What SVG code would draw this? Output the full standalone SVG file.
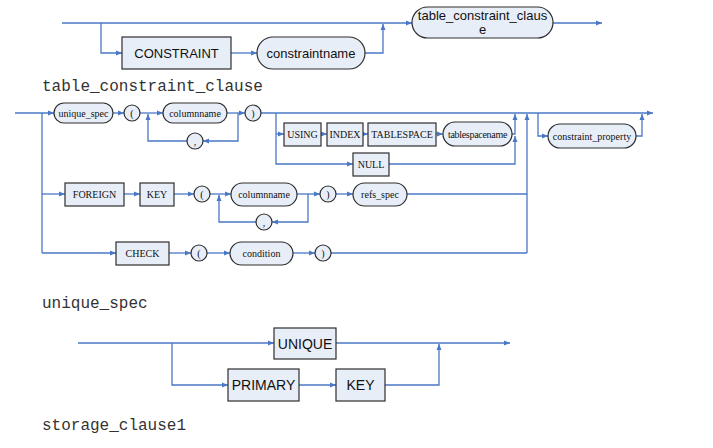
<svg xmlns="http://www.w3.org/2000/svg" width="713" height="448" viewBox="0 0 713 448">
<defs>
<marker id="ah" viewBox="0 0 6 6" refX="6" refY="3" markerWidth="6" markerHeight="6" markerUnits="userSpaceOnUse" orient="auto">
<path d="M0,0.5 L6,3 L0,5.5 z" fill="#4A78C6"/>
</marker>
<style>
.c{fill:none;stroke:#4A78C6;stroke-width:1.3}
.a{marker-end:url(#ah)}
.n{fill:#E8EEF8;stroke:#2E2E2E;stroke-width:1.2}
.ts{font-family:"Liberation Sans",Arial,sans-serif;fill:#111;text-anchor:middle}
.tt{font-family:"Liberation Serif","Times New Roman",serif;font-size:10px;fill:#111;text-anchor:middle}
.title{font-family:"Liberation Mono","Courier New",monospace;font-size:16px;fill:#333}
</style>
</defs>
<rect width="713" height="448" fill="#fff"/>

<g id="connectors">
<!-- top -->
<path class="c a" d="M62,23 H412"/>
<path class="c a" d="M101,23 V53 H122"/>
<path class="c a" d="M231,53 H257"/>
<path class="c a" d="M365,53 H383 V24"/>
<path class="c a" d="M553,23 H602"/>
<!-- middle main -->
<path class="c a" d="M15,113 H54"/>
<path class="c a" d="M113,113 H124"/>
<path class="c a" d="M140,113 H163"/>
<path class="c a" d="M227,113 H245"/>
<path class="c a" d="M238,113 V141 H203"/>
<path class="c a" d="M187,141 H148 V114"/>
<path class="c a" d="M261,113 H653"/>
<path class="c a" d="M276,113 V164 H353"/>
<path class="c a" d="M276,134 H284"/>
<path class="c a" d="M321,134 H327"/>
<path class="c a" d="M363,134 H368"/>
<path class="c a" d="M436,134 H443"/>
<path class="c a" d="M512,134 H515 V114"/>
<path class="c a" d="M389,164 H515 V136"/>
<path class="c a" d="M527,253 V114"/>
<path class="c a" d="M538,113 V136 H548"/>
<path class="c a" d="M636,136 H642 V114"/>
<!-- foreign row -->
<path class="c" d="M42,113 V253"/>
<path class="c a" d="M42,194 H65"/>
<path class="c a" d="M124,194 H140"/>
<path class="c a" d="M174,194 H194"/>
<path class="c a" d="M210,194 H231"/>
<path class="c a" d="M297,194 H320"/>
<path class="c a" d="M308,194 V222 H272"/>
<path class="c a" d="M256,222 H219 V195"/>
<path class="c a" d="M336,194 H353"/>
<path class="c" d="M407,194 H527"/>
<!-- check row -->
<path class="c a" d="M42,253 H116"/>
<path class="c a" d="M169,253 H191"/>
<path class="c a" d="M207,253 H230"/>
<path class="c a" d="M293,253 H315"/>
<path class="c" d="M331,253 H527"/>
<!-- bottom -->
<path class="c a" d="M78,343 H274"/>
<path class="c a" d="M336,343 H510"/>
<path class="c a" d="M172,343 V385 H228"/>
<path class="c a" d="M299,385 H336"/>
<path class="c a" d="M385,385 H439 V344"/>
</g>

<!-- top section -->
<g id="n_constraint"><rect class="n" x="122" y="37" width="109" height="32"/><text class="ts" x="176.5" y="58" font-size="13">CONSTRAINT</text></g>
<g id="n_constraintname"><rect class="n" x="257" y="37" width="108" height="32" rx="16"/><text class="ts" x="311" y="58" font-size="13">constraintname</text></g>
<g id="n_tcc"><rect class="n" x="412" y="7" width="141" height="31" rx="15.5"/><text class="ts" x="482.5" y="20" font-size="13">table_constraint_claus</text><text class="ts" x="482.5" y="34" font-size="13">e</text></g>

<text class="title" x="42" y="91">table_constraint_clause</text>

<!-- middle section -->
<g id="n_unique_spec"><rect class="n" x="54" y="103" width="59" height="20" rx="10"/><text class="tt" x="83.5" y="116.5" font-size="10.5">unique_spec</text></g>
<g id="n_lp1"><circle class="n" cx="132" cy="113" r="8"/><text class="tt" x="132" y="116.5">(</text></g>
<g id="n_col1"><rect class="n" x="163" y="103" width="64" height="20" rx="10"/><text class="tt" x="195" y="116.5">columnname</text></g>
<g id="n_comma1"><circle class="n" cx="195" cy="141" r="8"/><text class="tt" x="195" y="144.5">,</text></g>
<g id="n_rp1"><circle class="n" cx="253" cy="113" r="8"/><text class="tt" x="253" y="116.5">)</text></g>
<g id="n_using"><rect class="n" x="284" y="123" width="37" height="23"/><text class="tt" x="302.5" y="138">USING</text></g>
<g id="n_index"><rect class="n" x="327" y="123" width="36" height="23"/><text class="tt" x="345" y="138">INDEX</text></g>
<g id="n_tablespace"><rect class="n" x="368" y="123" width="68" height="23"/><text class="tt" x="402" y="138">TABLESPACE</text></g>
<g id="n_tablespacename"><rect class="n" x="443" y="122" width="69" height="24" rx="12"/><text class="tt" x="477.5" y="137.5" letter-spacing="-0.3">tablespacename</text></g>
<g id="n_null"><rect class="n" x="353" y="153" width="36" height="23"/><text class="tt" x="371" y="168">NULL</text></g>
<g id="n_constraint_property"><rect class="n" x="548" y="124" width="88" height="24" rx="12"/><text class="tt" x="592" y="139.5">constraint_property</text></g>

<g id="n_foreign"><rect class="n" x="65" y="183" width="59" height="23"/><text class="tt" x="94.5" y="198">FOREIGN</text></g>
<g id="n_key1"><rect class="n" x="140" y="183" width="34" height="23"/><text class="tt" x="157" y="198">KEY</text></g>
<g id="n_lp2"><circle class="n" cx="202" cy="194" r="8"/><text class="tt" x="202" y="197.5">(</text></g>
<g id="n_col2"><rect class="n" x="231" y="183" width="66" height="23" rx="11.5"/><text class="tt" x="264" y="198">columnname</text></g>
<g id="n_comma2"><circle class="n" cx="264" cy="222" r="8"/><text class="tt" x="264" y="225.5">,</text></g>
<g id="n_rp2"><circle class="n" cx="328" cy="194" r="8"/><text class="tt" x="328" y="197.5">)</text></g>
<g id="n_refs_spec"><rect class="n" x="353" y="183" width="54" height="23" rx="11.5"/><text class="tt" x="380" y="198">refs_spec</text></g>

<g id="n_check"><rect class="n" x="116" y="242" width="53" height="23"/><text class="tt" x="142.5" y="257">CHECK</text></g>
<g id="n_lp3"><circle class="n" cx="199" cy="253" r="8"/><text class="tt" x="199" y="256.5">(</text></g>
<g id="n_condition"><rect class="n" x="230" y="242" width="63" height="23" rx="11.5"/><text class="tt" x="261.5" y="257">condition</text></g>
<g id="n_rp3"><circle class="n" cx="323" cy="253" r="8"/><text class="tt" x="323" y="256.5">)</text></g>

<text class="title" x="42" y="308">unique_spec</text>

<!-- bottom section -->
<g id="n_unique"><rect class="n" x="274" y="328" width="62" height="31"/><text class="ts" x="305" y="348.5" font-size="14">UNIQUE</text></g>
<g id="n_primary"><rect class="n" x="228" y="369" width="71" height="32"/><text class="ts" x="263.5" y="390" font-size="14">PRIMARY</text></g>
<g id="n_key2"><rect class="n" x="336" y="369" width="49" height="32"/><text class="ts" x="360.5" y="390" font-size="14">KEY</text></g>

<text class="title" x="42" y="430">storage_clause1</text>
</svg>
